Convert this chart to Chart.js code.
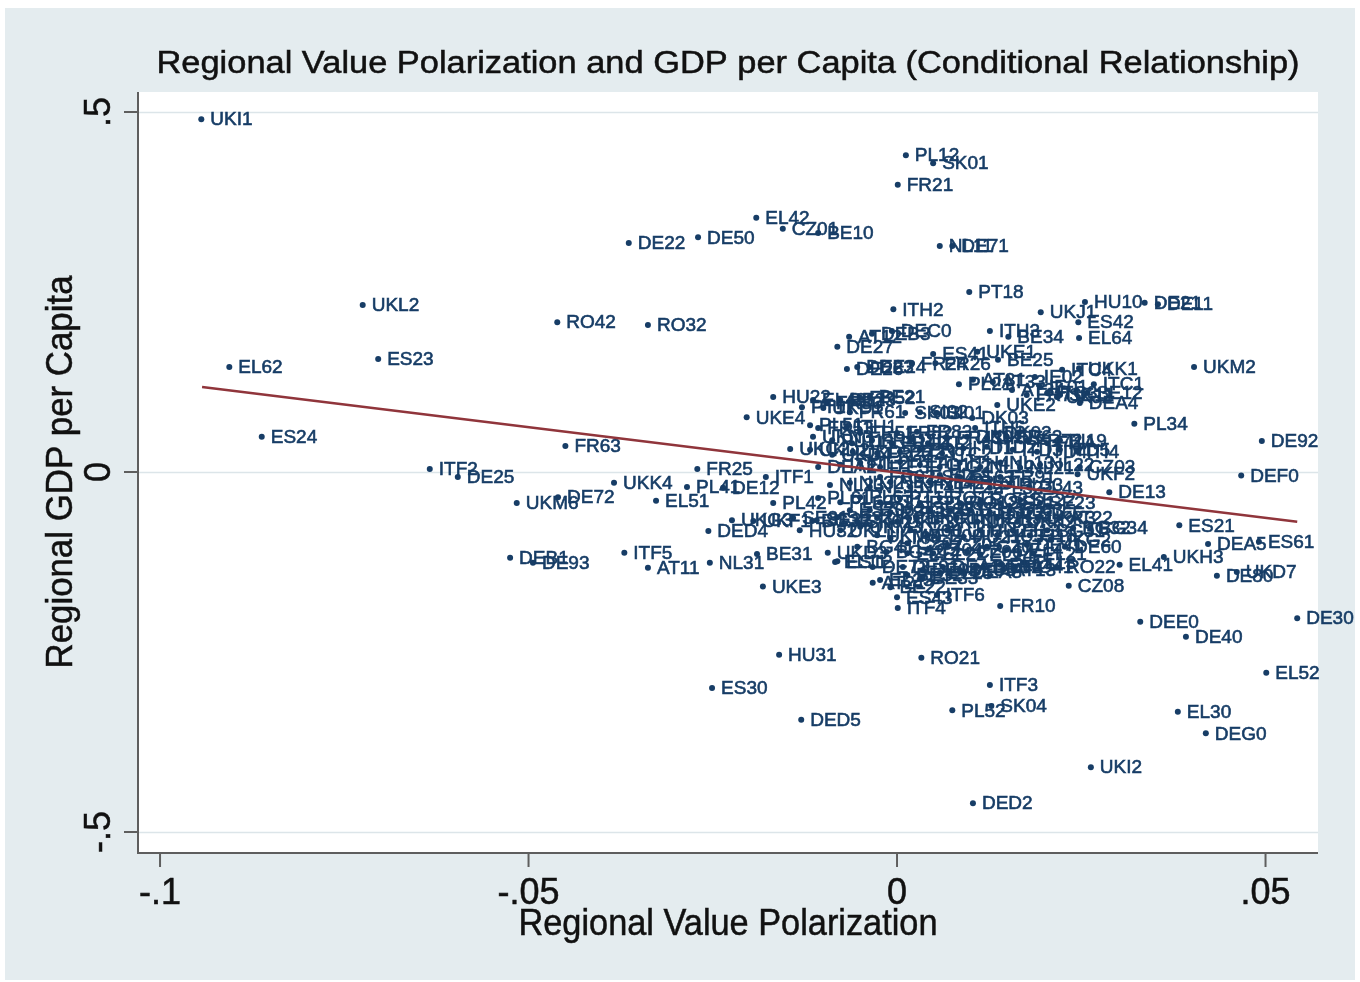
<!DOCTYPE html>
<html>
<head>
<meta charset="utf-8">
<title>Regional Value Polarization and GDP per Capita</title>
<script src="https://cdn.jsdelivr.net/npm/chart.js@4.4.1/dist/chart.umd.min.js"></script>
<style>
  html, body { margin: 0; padding: 0; background: #ffffff; }
  canvas { display: block; }
</style>
</head>
<body>
<canvas id="chart" width="1360" height="982"></canvas>
<script>
// NUTS-2 regions (cluster positions are estimates)
var regions = [
  'UKI1','UKL2','EL62','ES23','ES24','ITF2','DE25','UKM6','DE72','DEB1',
  'DE93','FR63','UKK4','EL51','ITF5','AT11','RO42','RO32','DE22','DE50',
  'EL42','CZ01','BE10','PL12','SK01','FR21','NL11','DE71','PT18','ITH2',
  'AT12','DEB3','DEC0','DE27','ITH3','BE34','UKJ1','HU10','ES42','EL64',
  'DE21','DE11','ITC4','UKK1','ITC1','DEA4','UKM2','PL34','DE92','DEF0',
  'ITI4','CZ03','UKF2','DE13','ES21','DEA5','ES61','UKH3','EL41','DE80',
  'UKD7','RO41','RO22','CZ08','FR10','DEE0','DE40','DE30','EL52','EL30',
  'DEG0','UKI2','DED2','ITF3','PL52','SK04','RO21','HU31','DED5','ES30',
  'UKE3','ITF4','ITF6','ES43','NL31','BE31','UKD3','ES12','DED4','HU32',
  'UKG3','UKF1','BG33','PL42','PL41','DE12','ITF1','FR25','UKC2','DEA2',
  'UKE4','HU22','ES41','UKE1','BE25','DE26','DE23','DE24','FR24','FR26',
  'PL21','AT31','AT33','IE02','UKE2','AT34','FR71','ITC3','SE11','IE01',
  'UKJ2','SE12','PT17','EL43','FR30','BE23','FR52','BE21','UKD1','FR61',
  'SK03','SI02','SI01','DK03','PL51','FR53','ITH1','FR51','FR82','FR83',
  'ITH5','DK02','UKN0','PL11','ITI3','FR41','FR42','ITI1','ITI2','FR43',
  'DK01','DK05','FR62','FR72','FI1A','FI19','UKD2','UKD4','UKD5','FR22',
  'FR23','FR81','ITC2','ITD1','ITD2','ITD3','ITD4','ITD5','ITE1','ITE2',
  'ITE3','ITE4','ITG1','ITG2','ITH4','NL12','NL13','NL21','NL22','NL23',
  'NL32','NL33','NL34','NL41','NL42','PL22','PL31','PL32','PL33','PL43',
  'PL61','PL62','PL63','PT11','PT15','PT16','RO11','RO12','RO31','SE21',
  'SE22','SE23','SE31','SE32','SE33','SK02','UKC1','UKF3','UKG1','UKH1',
  'UKH2','UKJ3','UKJ4','UKK2','UKK3','AT22','UKL1','UKM3','UKM5','LT00',
  'LV00','EE00','LU00','HU21','HU23','HU33','FI13','FI18','BG31','BG32',
  'BG34','BG41','BG42','CZ02','CZ04','CZ05','CZ06','CZ07','DE14','DE41',
  'UKG2','DE60','DE73','DE91','DE94','DEA1','DEA3','DEB2','AT13','AT21',
  'BE22','BE32','BE33','BE35','EL11','EL12','EL13','EL14','EL21','EL22',
  'EL23','EL24','EL25','ES11','ES13','ES22','ES51','ES52','ES53','ES62',
  'ES70','EL63','EL65','EL61','ES63','ES64','FR91','FR92'
];
var polarization = [
  -0.0944,-0.0725,-0.0906,-0.0704,-0.0862,-0.0634,-0.0596,-0.0516,-0.0460,-0.0525,
  -0.0494,-0.0450,-0.0384,-0.0327,-0.0370,-0.0338,-0.0461,-0.0338,-0.0364,-0.0270,
  -0.0191,-0.0155,-0.0107, 0.0012, 0.0049, 0.0001, 0.0058, 0.0075, 0.0098,-0.0005,
  -0.0065,-0.0034,-0.0007,-0.0081, 0.0126, 0.0151, 0.0195, 0.0255, 0.0246, 0.0247,
   0.0336, 0.0354, 0.0224, 0.0247, 0.0267, 0.0248, 0.0403, 0.0322, 0.0495, 0.0467,
   0.0245, 0.0248, 0.0245, 0.0288, 0.0383, 0.0422, 0.0491, 0.0362, 0.0302, 0.0434,
   0.0461, 0.0160, 0.0217, 0.0233, 0.0140, 0.0330, 0.0392, 0.0543, 0.0501, 0.0381,
   0.0419, 0.0263, 0.0103, 0.0126, 0.0075, 0.0128, 0.0033,-0.0160,-0.0130,-0.0251,
  -0.0182, 0.0001, 0.0054, 0.0000,-0.0254,-0.0190,-0.0094,-0.0081,-0.0256,-0.0132,
  -0.0224,-0.0195,-0.0115,-0.0168,-0.0285,-0.0236,-0.0178,-0.0271,-0.0145,-0.0107,
  -0.0204,-0.0168, 0.0049, 0.0109, 0.0137,-0.0068,-0.0054,-0.0037, 0.0020, 0.0052,
   0.0084, 0.0103, 0.0130, 0.0187, 0.0136, 0.0156, 0.0176, 0.0204, 0.0221, 0.0194,
   0.0217, 0.0258,-0.0129,-0.0114,-0.0095,-0.0077,-0.0050,-0.0037,-0.0100,-0.0064,
   0.0011, 0.0031, 0.0054, 0.0102,-0.0118,-0.0107,-0.0068,-0.0050, 0.0000, 0.0027,
   0.0106, 0.0133,-0.0114,-0.0088,-0.0061,-0.0034,-0.0007, 0.0018, 0.0042, 0.0068,
   0.0095, 0.0122, 0.0149, 0.0176, 0.0204, 0.0221,-0.0118,-0.0088,-0.0060,-0.0027,
   0.0004, 0.0031, 0.0061, 0.0090, 0.0122, 0.0157, 0.0190, 0.0221,-0.0077,-0.0050,
  -0.0023, 0.0004, 0.0031, 0.0058, 0.0085, 0.0113, 0.0140, 0.0167, 0.0194,-0.0091,
  -0.0064,-0.0037,-0.0009, 0.0018, 0.0045, 0.0072, 0.0099, 0.0126, 0.0153, 0.0180,
  -0.0107,-0.0077,-0.0050,-0.0023, 0.0004, 0.0031, 0.0058, 0.0085, 0.0113, 0.0140,
   0.0167, 0.0194,-0.0141,-0.0109,-0.0081,-0.0054,-0.0027, 0.0000, 0.0027, 0.0054,
   0.0081, 0.0109, 0.0136, 0.0163, 0.0190, 0.0221,-0.0077,-0.0050,-0.0027,-0.0009,
   0.0018, 0.0041, 0.0068, 0.0090, 0.0113, 0.0136, 0.0157, 0.0180, 0.0204, 0.0239,
   0.0262,-0.0054,-0.0014, 0.0014, 0.0041, 0.0068, 0.0095, 0.0122, 0.0149, 0.0176,
   0.0208, 0.0228,-0.0033, 0.0008, 0.0035, 0.0062, 0.0090, 0.0117, 0.0144,-0.0033,
  -0.0009, 0.0014, 0.0035, 0.0085,-0.0084, 0.0014, 0.0171, 0.0140, 0.0185, 0.0049,
  -0.0023, 0.0113, 0.0058, 0.0072, 0.0099, 0.0126, 0.0045, 0.0018,-0.0009,-0.0037,
  -0.0064, 0.0153, 0.0180, 0.0058, 0.0085, 0.0031, 0.0140,-0.0023
];
var gdp = [
   0.490, 0.232, 0.146, 0.157, 0.049, 0.004,-0.007,-0.043,-0.035,-0.119,
  -0.126, 0.036,-0.015,-0.040,-0.112,-0.133, 0.208, 0.204, 0.318, 0.326,
   0.353, 0.338, 0.332, 0.440, 0.429, 0.399, 0.314, 0.314, 0.250, 0.226,
   0.188, 0.192, 0.196, 0.174, 0.196, 0.188, 0.222, 0.236, 0.208, 0.186,
   0.235, 0.233, 0.142, 0.144, 0.122, 0.096, 0.146, 0.067, 0.043,-0.005,
   0.028, 0.007,-0.003,-0.028,-0.074,-0.100,-0.097,-0.118,-0.129,-0.144,
  -0.139,-0.132,-0.132,-0.158,-0.186,-0.208,-0.229,-0.203,-0.279,-0.333,
  -0.363,-0.410,-0.460,-0.296,-0.331,-0.325,-0.258,-0.254,-0.344,-0.300,
  -0.159,-0.189,-0.171,-0.174,-0.126,-0.114,-0.112,-0.124,-0.082,-0.081,
  -0.067,-0.068,-0.068,-0.043,-0.021,-0.022,-0.007, 0.004, 0.032, 0.007,
   0.076, 0.104, 0.164, 0.167, 0.156, 0.143, 0.146, 0.146, 0.151, 0.151,
   0.122, 0.128, 0.125, 0.132, 0.093, 0.114, 0.107, 0.110, 0.107, 0.118,
   0.104, 0.110, 0.090, 0.100, 0.096, 0.100, 0.103, 0.104, 0.089, 0.083,
   0.082, 0.083, 0.082, 0.075, 0.065, 0.061, 0.063, 0.054, 0.054, 0.056,
   0.061, 0.054, 0.049, 0.044, 0.040, 0.044, 0.040, 0.044, 0.040, 0.047,
   0.049, 0.047, 0.049, 0.044, 0.040, 0.044, 0.031, 0.024, 0.028, 0.026,
   0.028, 0.031, 0.026, 0.033, 0.035, 0.031, 0.028, 0.031, 0.010, 0.013,
   0.007, 0.014, 0.010, 0.007, 0.013, 0.007, 0.013, 0.006, 0.010,-0.018,
  -0.015,-0.021,-0.014,-0.021,-0.015,-0.021,-0.015,-0.022,-0.018,-0.022,
  -0.036,-0.042,-0.035,-0.042,-0.036,-0.043,-0.036,-0.043,-0.039,-0.043,
  -0.039,-0.043,-0.064,-0.067,-0.063,-0.069,-0.064,-0.069,-0.064,-0.069,
  -0.064,-0.069,-0.064,-0.069,-0.064,-0.064,-0.081,-0.076,-0.088,-0.092,
  -0.081,-0.088,-0.081,-0.090,-0.081,-0.088,-0.081,-0.088,-0.081,-0.078,
  -0.078,-0.104,-0.111,-0.099,-0.108,-0.101,-0.111,-0.104,-0.108,-0.101,
  -0.094,-0.104,-0.132,-0.132,-0.136,-0.132,-0.139,-0.132,-0.136,-0.154,
  -0.160,-0.143,-0.147,-0.136,-0.125,-0.113,-0.126,-0.129,-0.113,-0.113,
  -0.150,-0.115,-0.140,-0.053,-0.053,-0.056,-0.053,-0.050,-0.056,-0.053,
  -0.053,-0.053,-0.056,-0.004,-0.007,-0.007,-0.007,-0.007
];

// linear fit line, end points
var fitX = [-0.0943, 0.0543];
var fitY = [0.118, -0.069];

var xTicks = [-0.1, -0.05, 0, 0.05];
var xTickLabels = ['-.1', '-.05', '0', '.05'];
var yTicks = [-0.5, 0, 0.5];
var yTickLabels = ['-.5', '0', '.5'];

var NAVY = '#173D66';
var MAROON = '#90353B';
var FONT = '"Liberation Sans", Arial, sans-serif';

// draw text centred at (x, y), squeezed horizontally to a given width
function drawText(ctx, text, x, y, size, width, angle, color) {
    ctx.save();
    ctx.translate(x, y);
    if (angle) ctx.rotate(angle);
    ctx.font = size + 'px ' + FONT;
    var w = ctx.measureText(text).width;
    if (width) ctx.scale(width / w, 1);
    ctx.fillStyle = color || '#111111';
    ctx.strokeStyle = color || '#111111';
    ctx.lineWidth = 0.5;
    ctx.textAlign = 'center';
    ctx.textBaseline = 'middle';
    ctx.fillText(text, 0, 0);
    ctx.strokeText(text, 0, 0);
    ctx.restore();
}

var stataFrame = {
    id: 'stataFrame',
    beforeDraw: function (chart) {
        var ctx = chart.ctx, a = chart.chartArea;
        var ys = chart.scales.y;
        ctx.save();
        ctx.fillStyle = '#ffffff';
        ctx.fillRect(0, 0, chart.width, chart.height);
        ctx.fillStyle = '#E4ECEF';
        ctx.fillRect(5, 8, 1350, 972);
        ctx.fillStyle = '#ffffff';
        ctx.fillRect(a.left, a.top, a.right - a.left, a.bottom - a.top);
        // horizontal grid
        ctx.strokeStyle = '#DCE5E9';
        ctx.lineWidth = 1.5;
        yTicks.forEach(function (v) {
            var py = Math.round(ys.getPixelForValue(v)) + 0.5;
            ctx.beginPath();
            ctx.moveTo(a.left, py);
            ctx.lineTo(a.right, py);
            ctx.stroke();
        });
        ctx.restore();
    },
    afterDatasetDraw: function (chart, args) {
        if (args.index !== 1) return;
        var ctx = chart.ctx;
        ctx.save();
        ctx.font = '19px ' + FONT;
        ctx.fillStyle = NAVY;
        ctx.strokeStyle = NAVY;
        ctx.lineWidth = 0.6;
        ctx.textAlign = 'left';
        ctx.textBaseline = 'middle';
        args.meta.data.forEach(function (pt, i) {
            ctx.fillText(regions[i], pt.x + 9, pt.y + 1);
            ctx.strokeText(regions[i], pt.x + 9, pt.y + 1);
        });
        ctx.restore();
    },
    afterDraw: function (chart) {
        var ctx = chart.ctx, a = chart.chartArea;
        var xs = chart.scales.x, ys = chart.scales.y;
        ctx.save();
        ctx.strokeStyle = '#5E5E5E';
        ctx.lineWidth = 2;
        ctx.beginPath();
        ctx.moveTo(a.left, a.top);
        ctx.lineTo(a.left, a.bottom);
        ctx.lineTo(a.right, a.bottom);
        ctx.stroke();
        xTicks.forEach(function (v, i) {
            var px = xs.getPixelForValue(v);
            ctx.beginPath();
            ctx.moveTo(px, a.bottom);
            ctx.lineTo(px, a.bottom + 14);
            ctx.stroke();
            drawText(ctx, xTickLabels[i], px, a.bottom + 41, 36, null, 0, '#111111');
        });
        yTicks.forEach(function (v, i) {
            var py = ys.getPixelForValue(v);
            ctx.beginPath();
            ctx.moveTo(a.left, py);
            ctx.lineTo(a.left - 14, py);
            ctx.stroke();
            drawText(ctx, yTickLabels[i], a.left - 38, py, 36, null, -Math.PI / 2, '#111111');
        });
        ctx.restore();
        var cx = (a.left + a.right) / 2;
        drawText(ctx, 'Regional Value Polarization and GDP per Capita (Conditional Relationship)',
            cx, 64, 31, 1143, 0, '#111111');
        drawText(ctx, 'Regional Value Polarization', cx, 925, 37, 419, 0, '#111111');
        drawText(ctx, 'Regional GDP per Capita', 62, 472, 37, 393, -Math.PI / 2, '#111111');
    }
};

var points = polarization.map(function (x, i) { return { x: x, y: gdp[i] }; });
var fitLine = fitX.map(function (x, i) { return { x: x, y: fitY[i] }; });

var ctx = document.getElementById('chart').getContext('2d');
var chart = new Chart(ctx, {
    type: 'scatter',
    data: {
        datasets: [{
            label: 'Fitted values',
            data: fitLine,
            showLine: true,
            borderColor: MAROON,
            borderWidth: 2.5,
            pointRadius: 0
        }, {
            label: 'Regional GDP per Capita',
            data: points,
            pointStyle: 'circle',
            pointRadius: 3,
            pointBackgroundColor: NAVY,
            pointBorderWidth: 0,
            clip: false
        }]
    },
    options: {
        responsive: false,
        animation: false,
        events: [],
        layout: {
            padding: { left: 138, top: 92, right: 42, bottom: 129 }
        },
        scales: {
            x: { type: 'linear', display: false, min: -0.10299, max: 0.05712 },
            y: { type: 'linear', display: false, min: -0.5292, max: 0.5278 }
        },
        plugins: {
            legend: { display: false },
            tooltip: { enabled: false },
            title: { display: false }
        }
    },
    plugins: [stataFrame]
});
</script>
</body>
</html>
